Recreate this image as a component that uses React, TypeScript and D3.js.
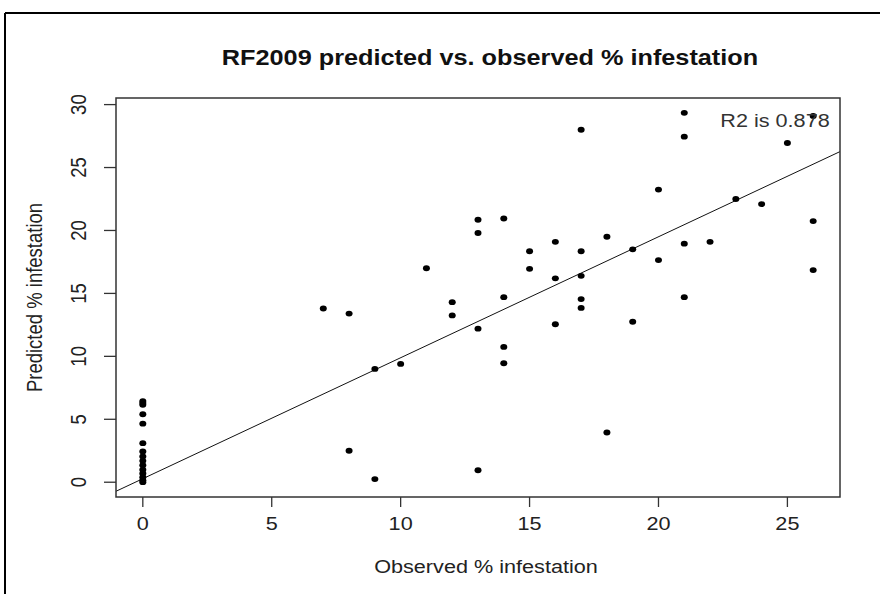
import React from 'react'
import * as d3 from 'd3'

// observed vs predicted % infestation
const observed = [
  0, 0, 0, 0, 0, 0, 0, 0, 0, 0, 0, 0, 0, 0, 0,
  7, 8, 8, 9, 9, 10, 11, 12, 12,
  13, 13, 13, 13, 14, 14, 14, 14, 15, 15,
  16, 16, 16, 17, 17, 17, 17, 17, 18, 18,
  19, 19, 20, 20, 21, 21, 21, 21, 22, 23,
  24, 25, 26, 26, 26
]
const predicted = [
  6.45, 6.3, 6.15, 5.4, 4.65, 3.1, 2.45, 2.05, 1.7, 1.35, 1.0, 0.7, 0.4, 0.15, 0.0,
  13.8, 13.4, 2.5, 9.0, 0.25, 9.4, 17.0, 14.3, 13.25,
  20.85, 19.8, 12.2, 0.95, 20.95, 14.7, 10.75, 9.45, 18.35, 16.95,
  19.1, 16.2, 12.55, 28.0, 18.35, 16.4, 14.55, 13.85, 19.5, 3.95,
  18.5, 12.75, 23.25, 17.65, 29.35, 27.45, 18.95, 14.7, 19.1, 22.5,
  22.1, 26.95, 29.1, 20.75, 16.85
]
const xTicks = [0, 5, 10, 15, 20, 25]
const yTicks = [0, 5, 10, 15, 20, 25, 30]
const fitIntercept = 0.28
const fitSlope = 0.961
const r2Label = 'R2 is 0.878'

const W = 880
const H = 594
const margin = {left: 116, right: 40, top: 98, bottom: 97}
const SX = 1.17 // the picture is stretched sideways
const FONT = '"Liberation Sans", Arial, sans-serif'

// R style 4% padding on the data range
const padded = (vals: number[]) => {
  const [lo, hi] = d3.extent(vals) as [number, number]
  const p = (hi - lo) * 0.04
  return [lo - p, hi + p]
}

const SText = ({x, y, rot, size = 18.5, bold, anchor = 'middle', fill = '#222', children}: any) => (
  <g transform={`translate(${x},${y}) scale(${SX},1)${rot ? ' rotate(-90)' : ''}`}>
    <text
      textAnchor={anchor}
      dy="0.35em"
      fontSize={size}
      fontWeight={bold ? 'bold' : 'normal'}
      fontFamily={FONT}
      fill={fill}
    >
      {children}
    </text>
  </g>
)

export default function App() {
  const x = d3.scaleLinear().domain(padded(observed)).range([margin.left, W - margin.right])
  const y = d3.scaleLinear().domain(padded(predicted)).range([H - margin.bottom, margin.top])
  const [x0, x1] = x.domain()
  const bottom = H - margin.bottom
  const right = W - margin.right

  return (
    <svg
      width={W}
      height={H}
      style={{position: 'absolute', left: 0, top: 0, display: 'block', background: '#fff'}}
    >
      <defs>
        <clipPath id="plot">
          <rect x={margin.left} y={margin.top} width={right - margin.left} height={bottom - margin.top} />
        </clipPath>
      </defs>

      {/* outer frame (only top and left show) */}
      <line x1={5} x2={W} y1={13} y2={13} stroke="#000" strokeWidth={2} />
      <line x1={5} x2={5} y1={13} y2={H} stroke="#000" strokeWidth={2} />

      <SText x={490} y={57} size={21.6} bold fill="#111">
        RF2009 predicted vs. observed % infestation
      </SText>

      {/* fitted line */}
      <line
        clipPath="url(#plot)"
        x1={x(x0)}
        y1={y(fitIntercept + fitSlope * x0)}
        x2={x(x1)}
        y2={y(fitIntercept + fitSlope * x1)}
        stroke="#111"
        strokeWidth={1}
      />

      {observed.map((o, i) => (
        <ellipse key={i} cx={x(o)} cy={y(predicted[i])} rx={3.5} ry={2.9} fill="#000" />
      ))}

      <SText x={775} y={121} fill="#333">{r2Label}</SText>

      <rect
        x={margin.left}
        y={margin.top}
        width={right - margin.left}
        height={bottom - margin.top}
        fill="none"
        stroke="#333"
        strokeWidth={1.5}
      />

      {/* x axis */}
      {xTicks.map(t => (
        <g key={t}>
          <line x1={x(t)} x2={x(t)} y1={bottom} y2={bottom + 10} stroke="#333" strokeWidth={1.3} />
          <SText x={x(t)} y={524}>{t}</SText>
        </g>
      ))}
      <SText x={(margin.left + right) / 2 + 8} y={567}>Observed % infestation</SText>

      {/* y axis */}
      {yTicks.map(t => (
        <g key={t}>
          <line x1={margin.left - 12} x2={margin.left} y1={y(t)} y2={y(t)} stroke="#333" strokeWidth={1.3} />
          <SText x={78} y={y(t)} rot>{t}</SText>
        </g>
      ))}
      <SText x={34} y={(margin.top + bottom) / 2} rot>Predicted % infestation</SText>
    </svg>
  )
}
